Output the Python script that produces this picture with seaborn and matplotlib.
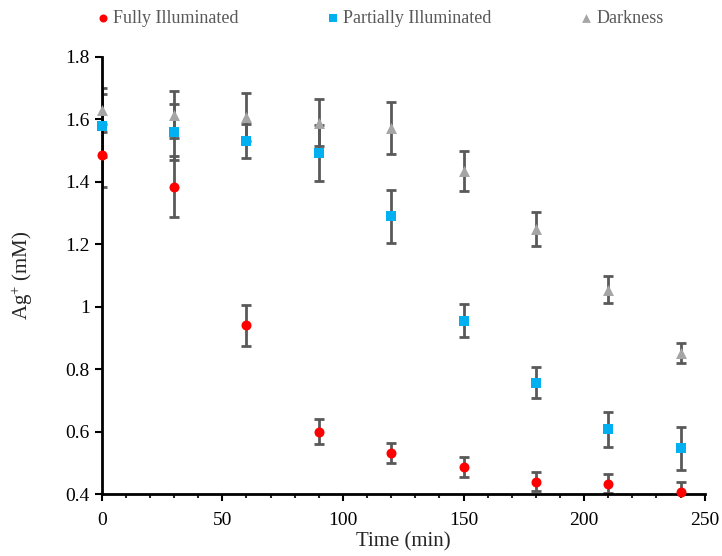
import matplotlib
matplotlib.use("Agg")
import matplotlib.pyplot as plt
import seaborn as sns
import pandas as pd
import numpy as np
from matplotlib.ticker import MultipleLocator, FuncFormatter

# ---- data ----
time = [0, 30, 60, 90, 120, 150, 180, 210, 240]
fully = [1.485, 1.385, 0.94, 0.60, 0.532, 0.485, 0.44, 0.433, 0.407]
fully_err = [0.10, 0.097, 0.065, 0.04, 0.032, 0.032, 0.03, 0.03, 0.03]
partial = [1.58, 1.56, 1.53, 1.493, 1.29, 0.955, 0.756, 0.608, 0.546]
partial_err = [0.10, 0.09, 0.055, 0.09, 0.085, 0.053, 0.05, 0.056, 0.07]
dark = [1.63, 1.615, 1.608, 1.59, 1.573, 1.435, 1.25, 1.055, 0.852]
dark_err = [0.07, 0.075, 0.077, 0.075, 0.083, 0.065, 0.055, 0.044, 0.032]
series_names = ["Fully Illuminated", "Partially Illuminated", "Darkness"]
colors = ["#FF0000", "#00B0F0", "#A5A5A5"]
markers = ["o", "s", "^"]
msizes = [52, 48, 62]
yticks = [0.4, 0.6, 0.8, 1.0, 1.2, 1.4, 1.6, 1.8]
xticks = [0, 50, 100, 150, 200, 250]

sns.set_theme(style="white")
plt.rcParams['font.family'] = ['Liberation Serif', 'DejaVu Serif']
plt.rcParams['mathtext.fontset'] = 'custom'
plt.rcParams['mathtext.rm'] = 'Liberation Serif'
plt.rcParams['mathtext.it'] = 'Liberation Serif:italic'

fig = plt.figure(figsize=(7.22, 5.56), dpi=100)
ax = fig.add_axes([0.141, 0.1115, 0.835, 0.786])

values = [fully, partial, dark]
errs = [fully_err, partial_err, dark_err]
for name, vals, err, c, m, s in zip(series_names, values, errs, colors, markers, msizes):
    df = pd.DataFrame({"Time": time, "Value": vals})
    sns.scatterplot(data=df, x="Time", y="Value", ax=ax, color=c, marker=m, s=s,
                    linewidth=0, label=name, zorder=3, clip_on=False)
    ax.errorbar(time, vals, yerr=err, fmt="none", ecolor="#595959", elinewidth=2,
                capsize=3.5, capthick=2, zorder=2)

ax.set_xlim(0, 250)
ax.set_ylim(0.4, 1.8)
ax.set_xticks(xticks)
ax.set_yticks(yticks)
ax.xaxis.set_minor_locator(MultipleLocator(10))
ax.yaxis.set_major_formatter(FuncFormatter(lambda v, p: f"{v:g}"))
ax.tick_params(axis="both", which="major", direction="out", length=5, width=1.5,
               labelsize=14, colors="black", bottom=True, left=True)
ax.tick_params(axis="x", which="minor", direction="out", length=3, width=1.5, bottom=True)
ax.tick_params(axis="x", pad=8)
for sp in ["top", "right"]:
    ax.spines[sp].set_visible(False)
for sp in ["left", "bottom"]:
    ax.spines[sp].set_color("black")
    ax.spines[sp].set_linewidth(2)

ax.set_xlabel("Time (min)", fontsize=15, labelpad=2)
ax.set_ylabel(r"Ag$^{+}$ (mM)", fontsize=15, labelpad=22)

ax.legend_.remove()
handles, labels = ax.get_legend_handles_labels()
leg = fig.legend(handles, labels, loc="upper left", bbox_to_anchor=(0.130, 0.982),
                 ncol=3, frameon=False, fontsize=13, handlelength=1.0,
                 handletextpad=0.05, columnspacing=4.75, markerscale=0.8,
                 borderpad=0, borderaxespad=0)
for t in leg.get_texts():
    t.set_color("#595959")

fig.savefig("out.png", dpi=100)
